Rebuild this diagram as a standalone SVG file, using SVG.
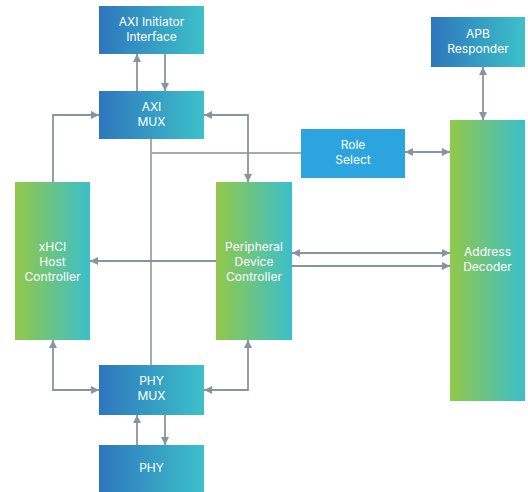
<svg xmlns="http://www.w3.org/2000/svg" width="528" height="492" viewBox="0 0 528 492">
<defs>
<linearGradient id="gb" x1="0" y1="0" x2="1" y2="0">
<stop offset="0" stop-color="#2E76BD"/>
<stop offset="1" stop-color="#3DC1C9"/>
</linearGradient>
<linearGradient id="gg" x1="0" y1="0" x2="1" y2="0">
<stop offset="0" stop-color="#93C849"/>
<stop offset="1" stop-color="#3BBFCB"/>
</linearGradient>
<marker id="ah" viewBox="0 0 10 10" refX="10" refY="5" markerWidth="8" markerHeight="8" markerUnits="userSpaceOnUse" orient="auto-start-reverse">
<path d="M0,0 L10,5 L0,10 z" fill="#8795A0"/>
</marker>
<style>
text{font-family:Inter,"Noto Sans","DejaVu Sans",sans-serif;font-size:12px;fill:#FFFFFF;text-anchor:middle}
.blue{fill:url(#gb)}
.green{fill:url(#gg)}
.role{fill:#2CA5DE}
.c{fill:none;stroke:#8795A0;stroke-width:1.8}
.p{fill:none;stroke:#A5ACB1;stroke-width:2}
.a{marker-end:url(#ah)}
.b{marker-start:url(#ah);marker-end:url(#ah)}
</style>
</defs>
<g id="connectors">
<path class="p" d="M151,139 V365"/>
<path class="p" d="M151,153 H301"/>
<path class="c a" d="M137,91 V54"/>
<path class="c a" d="M165,54 V91"/>
<path class="c a" d="M53,182 V115 H99"/>
<path class="c b" d="M204,115 H248 V182"/>
<path class="c b" d="M405,152 H450"/>
<path class="c b" d="M483,67 V120"/>
<path class="c a" d="M216,261 H90"/>
<path class="c b" d="M292,253 H450"/>
<path class="c a" d="M292,266 H450"/>
<path class="c b" d="M53,340 V390 H99"/>
<path class="c b" d="M248,340 V390 H204"/>
<path class="c a" d="M137,445 V415"/>
<path class="c a" d="M165,415 V445"/>
</g>
<g id="axi-initiator">
<rect class="blue" x="99" y="6" width="105" height="48"/>
<text x="151.5" y="26">AXI Initiator</text>
<text x="151.5" y="41">Interface</text>
</g>
<g id="axi-mux">
<rect class="blue" x="99" y="91" width="105" height="48"/>
<text x="151.5" y="111">AXI</text>
<text x="151.5" y="126">MUX</text>
</g>
<g id="apb-responder">
<rect class="blue" x="431" y="17" width="94" height="50"/>
<text x="478" y="38">APB</text>
<text x="478" y="53">Responder</text>
</g>
<g id="role-select">
<rect class="role" x="301" y="129" width="104" height="49"/>
<text x="353" y="149">Role</text>
<text x="353" y="164">Select</text>
</g>
<g id="xhci">
<rect class="green" x="15" y="182" width="75" height="158"/>
<text x="52.5" y="251">xHCI</text>
<text x="52.5" y="266">Host</text>
<text x="52.5" y="281">Controller</text>
</g>
<g id="peripheral">
<rect class="green" x="216" y="182" width="76" height="158"/>
<text x="254" y="251">Peripheral</text>
<text x="254" y="266">Device</text>
<text x="254" y="281">Controller</text>
</g>
<g id="address-decoder">
<rect class="green" x="450" y="120" width="75" height="281"/>
<text x="487.5" y="256">Address</text>
<text x="487.5" y="271">Decoder</text>
</g>
<g id="phy-mux">
<rect class="blue" x="99" y="365" width="105" height="50"/>
<text x="151.5" y="385">PHY</text>
<text x="151.5" y="400">MUX</text>
</g>
<g id="phy">
<rect class="blue" x="99" y="445" width="105" height="47"/>
<text x="151.5" y="472">PHY</text>
</g>
</svg>
